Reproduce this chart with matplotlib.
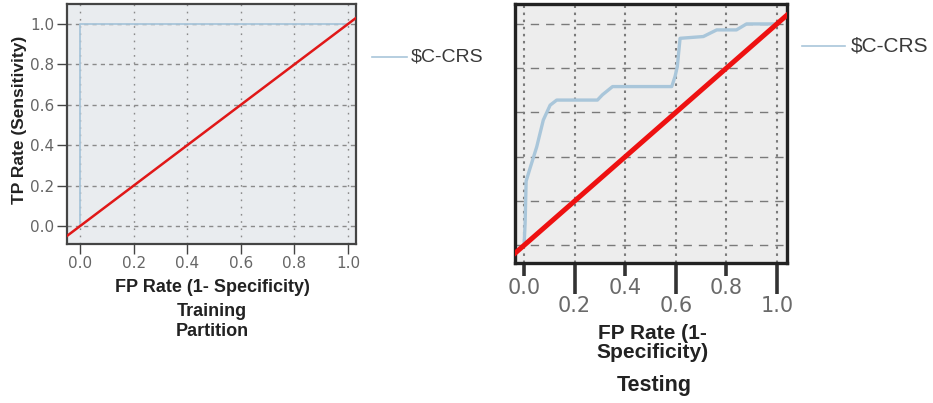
import matplotlib
matplotlib.use("Agg")
import matplotlib.pyplot as plt
from matplotlib.lines import Line2D

# ---- data ----
train_fpr = [0.0, 0.0, 1.0]
train_tpr = [0.0, 1.0, 1.0]

test_fpr = [0.0, 0.004, 0.008, 0.024, 0.05, 0.076, 0.103, 0.129, 0.29, 0.31, 0.35,
            0.584, 0.597, 0.606, 0.617, 0.709, 0.762, 0.84, 0.88, 1.0]
test_tpr = [0.0, 0.10, 0.29, 0.35, 0.445, 0.566, 0.633, 0.656, 0.656, 0.68, 0.717,
            0.717, 0.762, 0.807, 0.935, 0.943, 0.973, 0.973, 1.0, 1.0]

ref_line = [-0.2, 1.2]
ticks = [0.0, 0.2, 0.4, 0.6, 0.8, 1.0]
tick_labels = ["0.0", "0.2", "0.4", "0.6", "0.8", "1.0"]
series_name = r"\$C-CRS"

W, H = 933, 403
fig = plt.figure(figsize=(W / 100, H / 100), dpi=100)

def fr(x0, y0, x1, y1):
    return [x0 / W, 1 - y1 / H, (x1 - x0) / W, (y1 - y0) / H]

ROC_BLUE = "#a9c6da"
RED = "#e01818"

# ---------------- left panel (Training) ----------------
ax1 = fig.add_axes(fr(67, 4, 356, 244))
ax1.set_facecolor("#e9ecef")
ax1.set_xlim(-0.049, 1.03)
ax1.set_ylim(-0.089, 1.099)
ax1.set_xticks(ticks, tick_labels)
ax1.set_yticks(ticks, tick_labels)
for v in ticks:
    ax1.axhline(v, color="#8a8a8a", lw=1.0, dashes=(3, 3), zorder=1)
    ax1.axvline(v, color="#8a8a8a", lw=1.0, dashes=(1.2, 4), zorder=1)
ax1.plot(train_fpr, train_tpr, color=ROC_BLUE, lw=1.3, zorder=2)
ax1.plot(ref_line, ref_line, color=RED, lw=1.8, zorder=3)
for s in ax1.spines.values():
    s.set_color("#444444")
    s.set_linewidth(1.6)
ax1.tick_params(direction="out", length=7, width=1.0, color="#444444",
                labelcolor="#666666", labelsize=11, pad=2)
ax1.yaxis.set_ticks_position("left")
ax1.xaxis.set_ticks_position("bottom")

bold = dict(family="Liberation Sans", weight="bold", color="#222222")
fig.text(212 / W, 1 - 288 / H, "FP Rate (1- Specificity)", ha="center", va="center",
         fontsize=13, **bold)
fig.text(212 / W, 1 - 311 / H, "Training", ha="center", va="center", fontsize=13, **bold)
fig.text(212 / W, 1 - 331 / H, "Partition", ha="center", va="center", fontsize=13, **bold)
fig.text(20 / W, 1 - 120 / H, "TP Rate (Sensitivity)", ha="center", va="center",
         rotation=90, fontsize=12.5, **bold)

# legend left
fig.add_artist(Line2D([372 / W, 407 / W], [1 - 57 / H, 1 - 57 / H],
                      color=ROC_BLUE, lw=1.2, transform=fig.transFigure))
fig.text(411 / W, 1 - 57 / H, series_name, ha="left", va="center",
         family="Liberation Sans", fontsize=14, color="#3a3a3a")

# ---------------- right panel (Testing) ----------------
ax2 = fig.add_axes(fr(515, 4, 787, 263))
ax2.set_facecolor("#ededed")
ax2.set_xlim(-0.036, 1.04)
ax2.set_ylim(-0.08, 1.09)
for v in ticks:
    ax2.axhline(v, color="#7a7a7a", lw=1.0, dashes=(6, 5), zorder=1)
    ax2.axvline(v, color="#7a7a7a", lw=1.5, dashes=(1.2, 2.2), zorder=1)
ax2.plot(test_fpr, test_tpr, color=ROC_BLUE, lw=2.4, zorder=2, solid_joinstyle="round")
ax2.plot(ref_line, ref_line, color="#ee1111", lw=3.6, zorder=3)
for s in ax2.spines.values():
    s.set_color("#222222")
    s.set_linewidth(2.4)
ax2.set_yticks([])
ax2.set_xticks(ticks[0::2], tick_labels[0::2])
ax2.set_xticks(ticks[1::2], tick_labels[1::2], minor=True)
ax2.tick_params(axis="x", which="major", direction="out", length=9, width=2.6,
                color="#333333", labelcolor="#6a6a6a", labelsize=15, pad=2)
ax2.tick_params(axis="x", which="minor", direction="out", length=22, width=2.6,
                color="#333333", labelcolor="#6a6a6a", labelsize=15, pad=2)

fig.text(652 / W, 1 - 343 / H, "FP Rate (1-\nSpecificity)", ha="center", va="center",
         fontsize=15, linespacing=0.95, **bold)
fig.text(654 / W, 1 - 385 / H, "Testing", ha="center", va="center", fontsize=15.5, **bold)

fig.add_artist(Line2D([802 / W, 845 / W], [1 - 46 / H, 1 - 46 / H],
                      color=ROC_BLUE, lw=1.2, transform=fig.transFigure))
fig.text(851 / W, 1 - 46 / H, series_name, ha="left", va="center",
         family="Liberation Sans", fontsize=15, color="#3a3a3a")

fig.savefig("out.png", dpi=100)
